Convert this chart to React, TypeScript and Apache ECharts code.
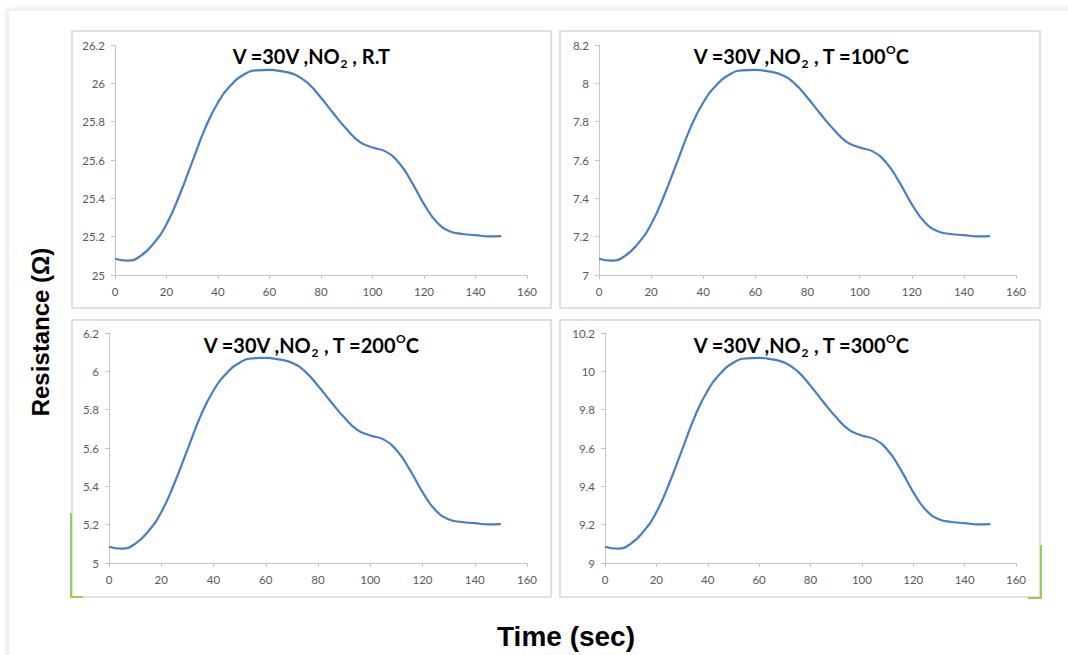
import React, { useEffect, useRef } from "react";
import * as echarts from "echarts";

const timeSec = [0, 5, 10, 15, 20, 25, 30, 35, 40, 45, 50, 55, 60, 65, 70, 75, 80, 85, 90, 95, 100, 105, 110, 115, 120, 125, 130, 135, 140, 145, 150];

const resRT = [25.085, 25.075, 25.1, 25.165, 25.265, 25.415, 25.59, 25.765, 25.9, 25.99, 26.045, 26.068, 26.07, 26.062, 26.045, 26.0, 25.925, 25.84, 25.76, 25.695, 25.665, 25.645, 25.59, 25.49, 25.37, 25.275, 25.228, 25.214, 25.208, 25.202, 25.203];
const res100 = [7.085, 7.075, 7.1, 7.165, 7.265, 7.415, 7.59, 7.765, 7.9, 7.99, 8.045, 8.068, 8.07, 8.062, 8.045, 8.0, 7.925, 7.84, 7.76, 7.695, 7.665, 7.645, 7.59, 7.49, 7.37, 7.275, 7.228, 7.214, 7.208, 7.202, 7.203];
const res200 = [5.085, 5.075, 5.1, 5.165, 5.265, 5.415, 5.59, 5.765, 5.9, 5.99, 6.045, 6.068, 6.07, 6.062, 6.045, 6.0, 5.925, 5.84, 5.76, 5.695, 5.665, 5.645, 5.59, 5.49, 5.37, 5.275, 5.228, 5.214, 5.208, 5.202, 5.203];
const res300 = [9.085, 9.075, 9.1, 9.165, 9.265, 9.415, 9.59, 9.765, 9.9, 9.99, 10.045, 10.068, 10.07, 10.062, 10.045, 10.0, 9.925, 9.84, 9.76, 9.695, 9.665, 9.645, 9.59, 9.49, 9.37, 9.275, 9.228, 9.214, 9.208, 9.202, 9.203];

const yMins = [25, 7, 5, 9];
const yMaxs = [26.2, 8.2, 6.2, 10.2];
const panelSeries = [resRT, res100, res200, res300];
const panelTitleTexts = [
  "{n|V =30V ,NO}{s|2}{n| , R.T}",
  "{n|V =30V ,NO}{s|2}{n| , T =100}{p|O}{n|C}",
  "{n|V =30V ,NO}{s|2}{n| , T =200}{p|O}{n|C}",
  "{n|V =30V ,NO}{s|2}{n| , T =300}{p|O}{n|C}",
];
const yAxisTitle = "Resistance (Ω)";
const xAxisTitle = "Time (sec)";

const grids = [
  { left: 115, top: 45, width: 412, height: 230 },
  { left: 599, top: 45, width: 417, height: 230 },
  { left: 109, top: 333, width: 418, height: 230 },
  { left: 605, top: 333, width: 411, height: 230 },
];
const panelBoxes = [
  { x: 72, y: 31, w: 479, h: 277 },
  { x: 560, y: 31, w: 480, h: 277 },
  { x: 72, y: 320, w: 479, h: 277 },
  { x: 560, y: 320, w: 480, h: 277 },
];
const titlePos = [
  { x: 311, y: 56 },
  { x: 801, y: 56 },
  { x: 311, y: 345 },
  { x: 801, y: 345 },
];

const axisColor = "#c4c4c4";
const labelColor = "#595959";
const lineColor = "#4a7ec0";
const green = "#9bcb5a";

export default function App() {
  const ref = useRef<HTMLDivElement>(null);
  useEffect(() => {
    if (!ref.current) return;
    const chart = echarts.init(ref.current, null, { renderer: "svg" });
    const richTitle = {
      n: { fontSize: 20, fontWeight: "bold", fontFamily: "Lato", fill: "#000", color: "#000", lineHeight: 26, verticalAlign: "middle" },
      s: { fontSize: 12, fontWeight: "bold", fontFamily: "Lato", fill: "#000", color: "#000", lineHeight: 12, verticalAlign: "bottom" },
      p: { fontSize: 12, fontWeight: "bold", fontFamily: "Lato", fill: "#000", color: "#000", lineHeight: 12, verticalAlign: "top" },
    };
    const graphic: any[] = [
      {
        type: "rect",
        shape: { x: 8, y: 10, width: 1075, height: 670 },
        style: { fill: "#fff", stroke: "#e4e4e4", lineWidth: 1, shadowBlur: 6, shadowColor: "rgba(0,0,0,0.12)" },
        z: -10,
      },
    ];
    panelBoxes.forEach((b) => {
      graphic.push({
        type: "rect",
        shape: { x: b.x, y: b.y, width: b.w, height: b.h },
        style: { fill: "#fff", stroke: "#d6d6d6", lineWidth: 1.5 },
        z: -5,
      });
    });
    graphic.push(
      { type: "line", shape: { x1: 71, y1: 513, x2: 71, y2: 597 }, style: { stroke: green, lineWidth: 2 }, z: -4 },
      { type: "line", shape: { x1: 70, y1: 597, x2: 83, y2: 597 }, style: { stroke: green, lineWidth: 2 }, z: -4 },
      { type: "line", shape: { x1: 1041, y1: 545, x2: 1041, y2: 598 }, style: { stroke: green, lineWidth: 2 }, z: -4 },
      { type: "line", shape: { x1: 1028, y1: 598, x2: 1042, y2: 598 }, style: { stroke: green, lineWidth: 2 }, z: -4 }
    );
    titlePos.forEach((p, i) => {
      graphic.push({
        type: "text",
        x: p.x,
        y: p.y,
        z: 10,
        style: {
          text: panelTitleTexts[i],
          rich: richTitle,
          align: "center",
          verticalAlign: "middle",
        },
      });
    });
    graphic.push({
      type: "text",
      x: 40,
      y: 332,
      rotation: Math.PI / 2,
      style: {
        text: yAxisTitle,
        font: "bold 24px 'Liberation Sans', Arial, sans-serif",
        fill: "#000",
        align: "center",
        verticalAlign: "middle",
      },
    });
    graphic.push({
      type: "text",
      x: 566,
      y: 636,
      style: {
        text: xAxisTitle,
        font: "bold 28px 'Liberation Sans', Arial, sans-serif",
        fill: "#000",
        align: "center",
        verticalAlign: "middle",
      },
    });

    const fmt = (v: number) => String(parseFloat(v.toFixed(1)));
    const option: any = {
      animation: false,
      backgroundColor: "#fff",
      grid: grids.map((g) => ({ ...g, containLabel: false })),
      xAxis: grids.map((_, i) => ({
        type: "value",
        gridIndex: i,
        min: 0,
        max: 160,
        interval: 20,
        axisLine: { show: true, lineStyle: { color: axisColor, width: 1 } },
        axisTick: { show: true, length: 4, lineStyle: { color: axisColor } },
        splitLine: { show: false },
        axisLabel: { color: labelColor, fontSize: 11.5, fontFamily: "Lato", margin: 10 },
      })),
      yAxis: grids.map((_, i) => ({
        type: "value",
        gridIndex: i,
        min: yMins[i],
        max: yMaxs[i],
        interval: 0.2,
        axisLine: { show: true, lineStyle: { color: axisColor, width: 1 } },
        axisTick: { show: true, length: 4, lineStyle: { color: axisColor } },
        splitLine: { show: false },
        axisLabel: { color: labelColor, fontSize: 11.5, fontFamily: "Lato", margin: 10, formatter: fmt },
      })),
      series: panelSeries.map((vals, i) => ({
        type: "line",
        xAxisIndex: i,
        yAxisIndex: i,
        data: timeSec.map((t, k) => [t, vals[k]]),
        smooth: 0.5,
        showSymbol: false,
        symbol: "none",
        lineStyle: { color: lineColor, width: 2.2 },
      })),
      graphic,
    };
    chart.setOption(option);
    return () => chart.dispose();
  }, []);
  return (
    <div
      ref={ref}
      style={{ position: "fixed", left: 0, top: 0, width: 1068, height: 655 }}
    />
  );
}
